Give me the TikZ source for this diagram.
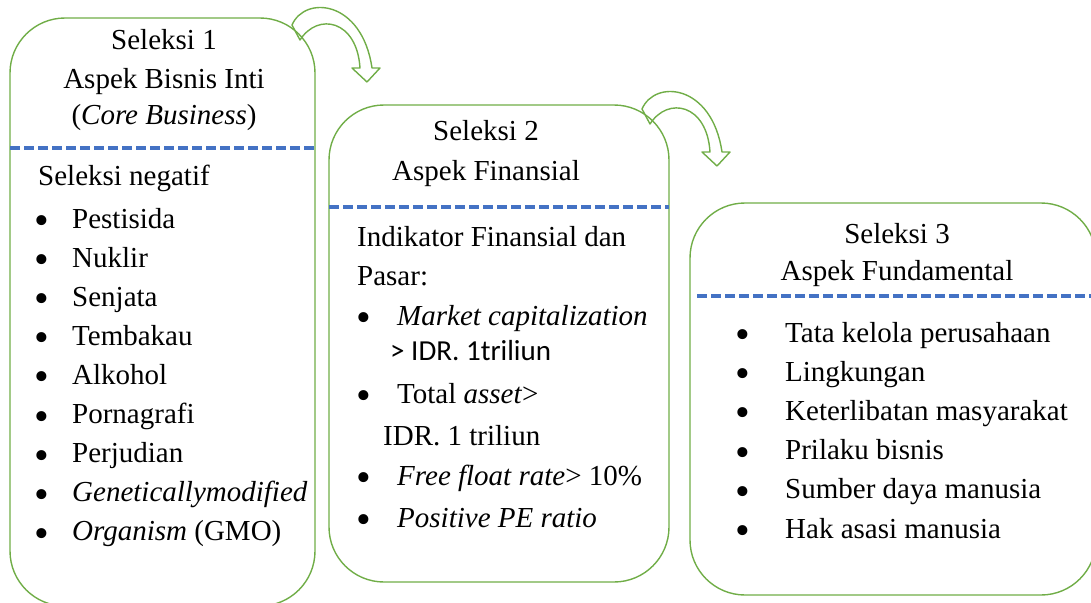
\documentclass[tikz,border=0pt]{standalone}
\usepackage{fontspec}
\setmainfont{Liberation Serif}
\newfontfamily\calibri{Carlito}

\definecolor{boxgreen}{RGB}{112,173,71}
\definecolor{dashblue}{RGB}{68,114,196}

\tikzset{
  box/.style={draw=boxgreen, line width=1.4pt, rounded corners=55pt},
  divider/.style={draw=dashblue, line width=4pt, dash pattern=on 10pt off 4pt},
  txt/.style={font=\fontsize{29}{35}\selectfont, inner sep=0pt, text height=20pt, text depth=7pt},
  bullet/.style={font=\fontsize{42}{44}\selectfont, inner sep=0pt, anchor=base, yshift=-13pt},
  turnarrow/.pic={
    \draw[boxgreen, line width=1.4pt, line join=round]
      (292,25) .. controls (305,-5) and (362,0) .. (372,68) -- (380,68) -- (367,82)
      -- (352,68) -- (360,68) .. controls (357,20) and (318,12) .. (300,40) -- cycle;
  }
}

\begin{document}
\begin{tikzpicture}[x=1pt, y=-1pt]
    \useasboundingbox (0,0) rectangle (1091,602);

    % Boxes
    \draw[box] (10,18) rectangle (315,606);
    \draw[box] (329,105) rectangle (669,582);
    \draw[box] (690,203) rectangle (1096,595);

    % Dividers
    \draw[divider] (10,148) -- (315,148);
    \draw[divider] (329,207) -- (669,207);
    \draw[divider] (697,296) -- (1091,296);

    % Turning arrows
    \pic at (0,0) {turnarrow};
    \pic at (350,84) {turnarrow};

    % Seleksi 1
    \node (s1title) at (164,43.5) [txt] {Seleksi 1};
    \node (s1aspect) at (164,81.5) [txt] {Aspek Bisnis Inti};
    \node (s1core) at (164,117.5) [txt] {(\textit{Core Business})};
    \node (s1neg) at (38,178.5) [txt, anchor=west] {Seleksi negatif};
    \foreach \txtitem [count=\i from 0] in {Pestisida, Nuklir, Senjata, Tembakau, Alkohol,
        Pornagrafi, Perjudian, \textit{Geneticallymodified}, \textit{Organism} (GMO)} {
      \node (s1dot\i) at (42,221.5+39.1*\i) [bullet] {\textbullet};
      \node (s1item\i) at (72,221.5+39.1*\i) [txt, anchor=west] {\txtitem};
    }

    % Seleksi 2
    \node (s2title) at (486,133.5) [txt] {Seleksi 2};
    \node (s2aspect) at (486,173.5) [txt] {Aspek Finansial};
    \node (s2ind) at (357,239.5) [txt, anchor=west] {Indikator Finansial dan};
    \node (s2pasar) at (357,278.5) [txt, anchor=west] {Pasar:};
    \node (s2dot1) at (364,318.5) [bullet] {\textbullet};
    \node (s2mcap) at (397,318.5) [txt, anchor=west] {\textit{Market capitalization}};
    \node (s2mcapv) at (390,353.5) [txt, anchor=west] {\calibri > IDR. 1triliun};
    \node (s2dot2) at (364,396.5) [bullet] {\textbullet};
    \node (s2asset) at (397,396.5) [txt, anchor=west] {Total \textit{asset}>};
    \node (s2assetv) at (383,438.5) [txt, anchor=west] {IDR. 1 triliun};
    \node (s2dot3) at (364,478.5) [bullet] {\textbullet};
    \node (s2float) at (397,478.5) [txt, anchor=west] {\textit{Free float rate}> 10\%};
    \node (s2dot4) at (364,520.5) [bullet] {\textbullet};
    \node (s2pe) at (397,520.5) [txt, anchor=west] {\textit{Positive PE ratio}};

    % Seleksi 3
    \node (s3title) at (897,236.5) [txt] {Seleksi 3};
    \node (s3aspect) at (897,273.5) [txt] {Aspek Fundamental};
    \foreach \txtitem [count=\i from 0] in {Tata kelola perusahaan, Lingkungan,
        Keterlibatan masyarakat, Prilaku bisnis, Sumber daya manusia, Hak asasi manusia} {
      \node (s3dot\i) at (743,335.5+39.2*\i) [bullet] {\textbullet};
      \node (s3item\i) at (785,335.5+39.2*\i) [txt, anchor=west] {\txtitem};
    }

\end{tikzpicture}
\end{document}
